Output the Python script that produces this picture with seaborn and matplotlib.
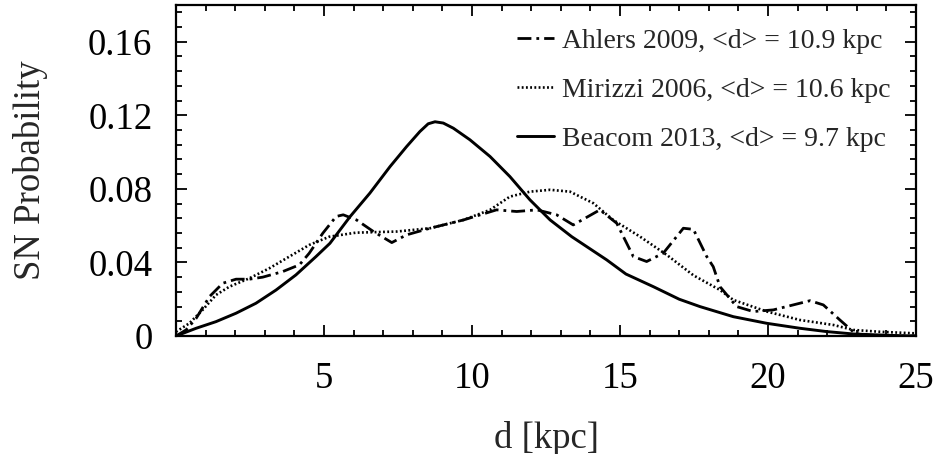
import numpy as np
import pandas as pd
import matplotlib
matplotlib.use("Agg")
import matplotlib.pyplot as plt
import seaborn as sns
from matplotlib.ticker import MultipleLocator, FixedLocator

# Galactic supernova distance distributions, d in kpc
ahlers_d = [0.0, 0.34, 0.68, 1.13, 1.58, 2.03, 2.48, 2.93, 3.60, 4.17, 4.50, 4.96, 5.41,
            5.65, 6.10, 6.67, 7.29, 7.79, 8.58, 9.71, 10.83, 11.51, 12.19, 12.86, 13.42,
            14.32, 14.89, 15.45, 15.90, 16.46, 17.14, 17.48, 17.93, 18.15, 18.38, 18.94,
            19.50, 20.18, 20.85, 21.42, 21.87, 22.43, 22.88, 23.22, 25.0]
ahlers_p = [0.0, 0.0033, 0.0096, 0.0214, 0.0287, 0.0309, 0.0309, 0.0320, 0.0350, 0.0387,
            0.0450, 0.0559, 0.0650, 0.0659, 0.0631, 0.0568, 0.0508, 0.0550, 0.0586, 0.0631,
            0.0686, 0.0677, 0.0686, 0.0659, 0.0604, 0.0686, 0.0613, 0.0432, 0.0405, 0.0450,
            0.0586, 0.0580, 0.0432, 0.0377, 0.0268, 0.0160, 0.0133, 0.0142, 0.0169, 0.0192,
            0.0169, 0.0087, 0.0023, 0.0, 0.0]

mirizzi_d = [0.0, 0.45, 0.90, 1.35, 1.80, 2.48, 3.15, 3.83, 4.50, 5.18, 6.08, 7.45, 8.58,
             9.71, 10.61, 11.28, 11.96, 12.64, 13.31, 14.10, 14.77, 15.68, 16.58, 17.48,
             18.38, 18.83, 19.96, 21.08, 22.21, 22.88, 23.78, 24.90, 25.0]
mirizzi_p = [0.0023, 0.0069, 0.0142, 0.0223, 0.0268, 0.0314, 0.0368, 0.0432, 0.0495, 0.0540,
             0.0562, 0.0568, 0.0586, 0.0631, 0.0686, 0.0758, 0.0785, 0.0795, 0.0785, 0.0722,
             0.0631, 0.0540, 0.0441, 0.0330, 0.0250, 0.0196, 0.0133, 0.0087, 0.0060, 0.0033,
             0.0023, 0.0015, 0.0015]

beacom_d = [0.0, 0.68, 1.35, 2.03, 2.70, 3.38, 4.05, 4.73, 5.20, 5.88, 6.55, 7.23, 7.79,
            8.24, 8.52, 8.75, 9.03, 9.37, 9.93, 10.61, 11.28, 11.96, 12.64, 13.37, 14.55,
            15.20, 16.13, 17.00, 17.70, 18.83, 19.96, 21.08, 21.98, 22.88, 24.20, 25.0]
beacom_p = [0.0, 0.0042, 0.0078, 0.0124, 0.0178, 0.0250, 0.0332, 0.0432, 0.0504, 0.0649,
            0.0777, 0.0921, 0.1030, 0.1112, 0.1154, 0.1165, 0.1158, 0.1130, 0.1067, 0.0976,
            0.0867, 0.0740, 0.0631, 0.0540, 0.0414, 0.0337, 0.0268, 0.0200, 0.0160, 0.0105,
            0.0069, 0.0042, 0.0024, 0.0011, 0.0003, 0.0]

labels = ["Ahlers 2009, <d> = 10.9 kpc",
          "Mirizzi 2006, <d> = 10.6 kpc",
          "Beacom 2013, <d> = 9.7 kpc"]

x_ticks = [5, 10, 15, 20, 25]
x_ticklabels = ["5", "10", "15", "20", "25"]
y_ticks = [0, 0.04, 0.08, 0.12, 0.16]
y_ticklabels = ["0", "0.04", "0.08", "0.12", "0.16"]

df = pd.concat([
    pd.DataFrame({"d": ahlers_d, "p": ahlers_p, "model": labels[0]}),
    pd.DataFrame({"d": mirizzi_d, "p": mirizzi_p, "model": labels[1]}),
    pd.DataFrame({"d": beacom_d, "p": beacom_p, "model": labels[2]}),
], ignore_index=True)

sns.set_theme(style="ticks")
plt.rcParams["font.family"] = ["Liberation Serif", "DejaVu Serif"]

fig = plt.figure(figsize=(9.36, 4.54), dpi=100)
ax = fig.add_axes([176 / 936, 1 - 336 / 454, 740 / 936, 331 / 454])

sns.lineplot(data=df, x="d", y="p", hue="model", style="model",
             hue_order=labels, style_order=labels,
             palette=["black", "black", "black"],
             dashes=[(5.0, 1.8, 1.0, 1.8), (0.7, 0.9), ""],
             sort=False, estimator=None, ax=ax, legend=False)

lws = [2.0, 1.9, 2.1]
for line, lw, lab in zip(ax.get_lines(), lws, labels):
    line.set_linewidth(lw)
    line.set_solid_joinstyle("round")
    line.set_dash_joinstyle("round")
    line.set_label(lab)

ax.set_xlim(0, 25)
ax.set_ylim(0, 0.18)
ax.xaxis.set_major_locator(FixedLocator(x_ticks))
ax.set_xticklabels(x_ticklabels)
ax.xaxis.set_minor_locator(MultipleLocator(1))
ax.yaxis.set_major_locator(FixedLocator(y_ticks))
ax.set_yticklabels(y_ticklabels)
ax.yaxis.set_minor_locator(MultipleLocator(0.008))

ax.tick_params(which="both", direction="in", top=True, right=True,
               width=1.3, colors="black", labelsize=26.5)
ax.tick_params(axis="y", which="major", length=8, pad=17)
ax.tick_params(axis="x", which="major", length=8, pad=18)
ax.tick_params(which="minor", length=4)
for sp in ax.spines.values():
    sp.set_linewidth(1.6)
    sp.set_color("black")

ax.set_xlabel("d [kpc]", fontsize=26.5, labelpad=18)
ax.set_ylabel("SN Probability", fontsize=26.5, labelpad=28.5)

leg = ax.legend(loc="upper right", bbox_to_anchor=(0.966, 0.93), frameon=False,
                fontsize=20, handlelength=1.35, handletextpad=0.3,
                labelspacing=0.85, borderpad=0, borderaxespad=0)

fig.savefig("out.png", dpi=100)
